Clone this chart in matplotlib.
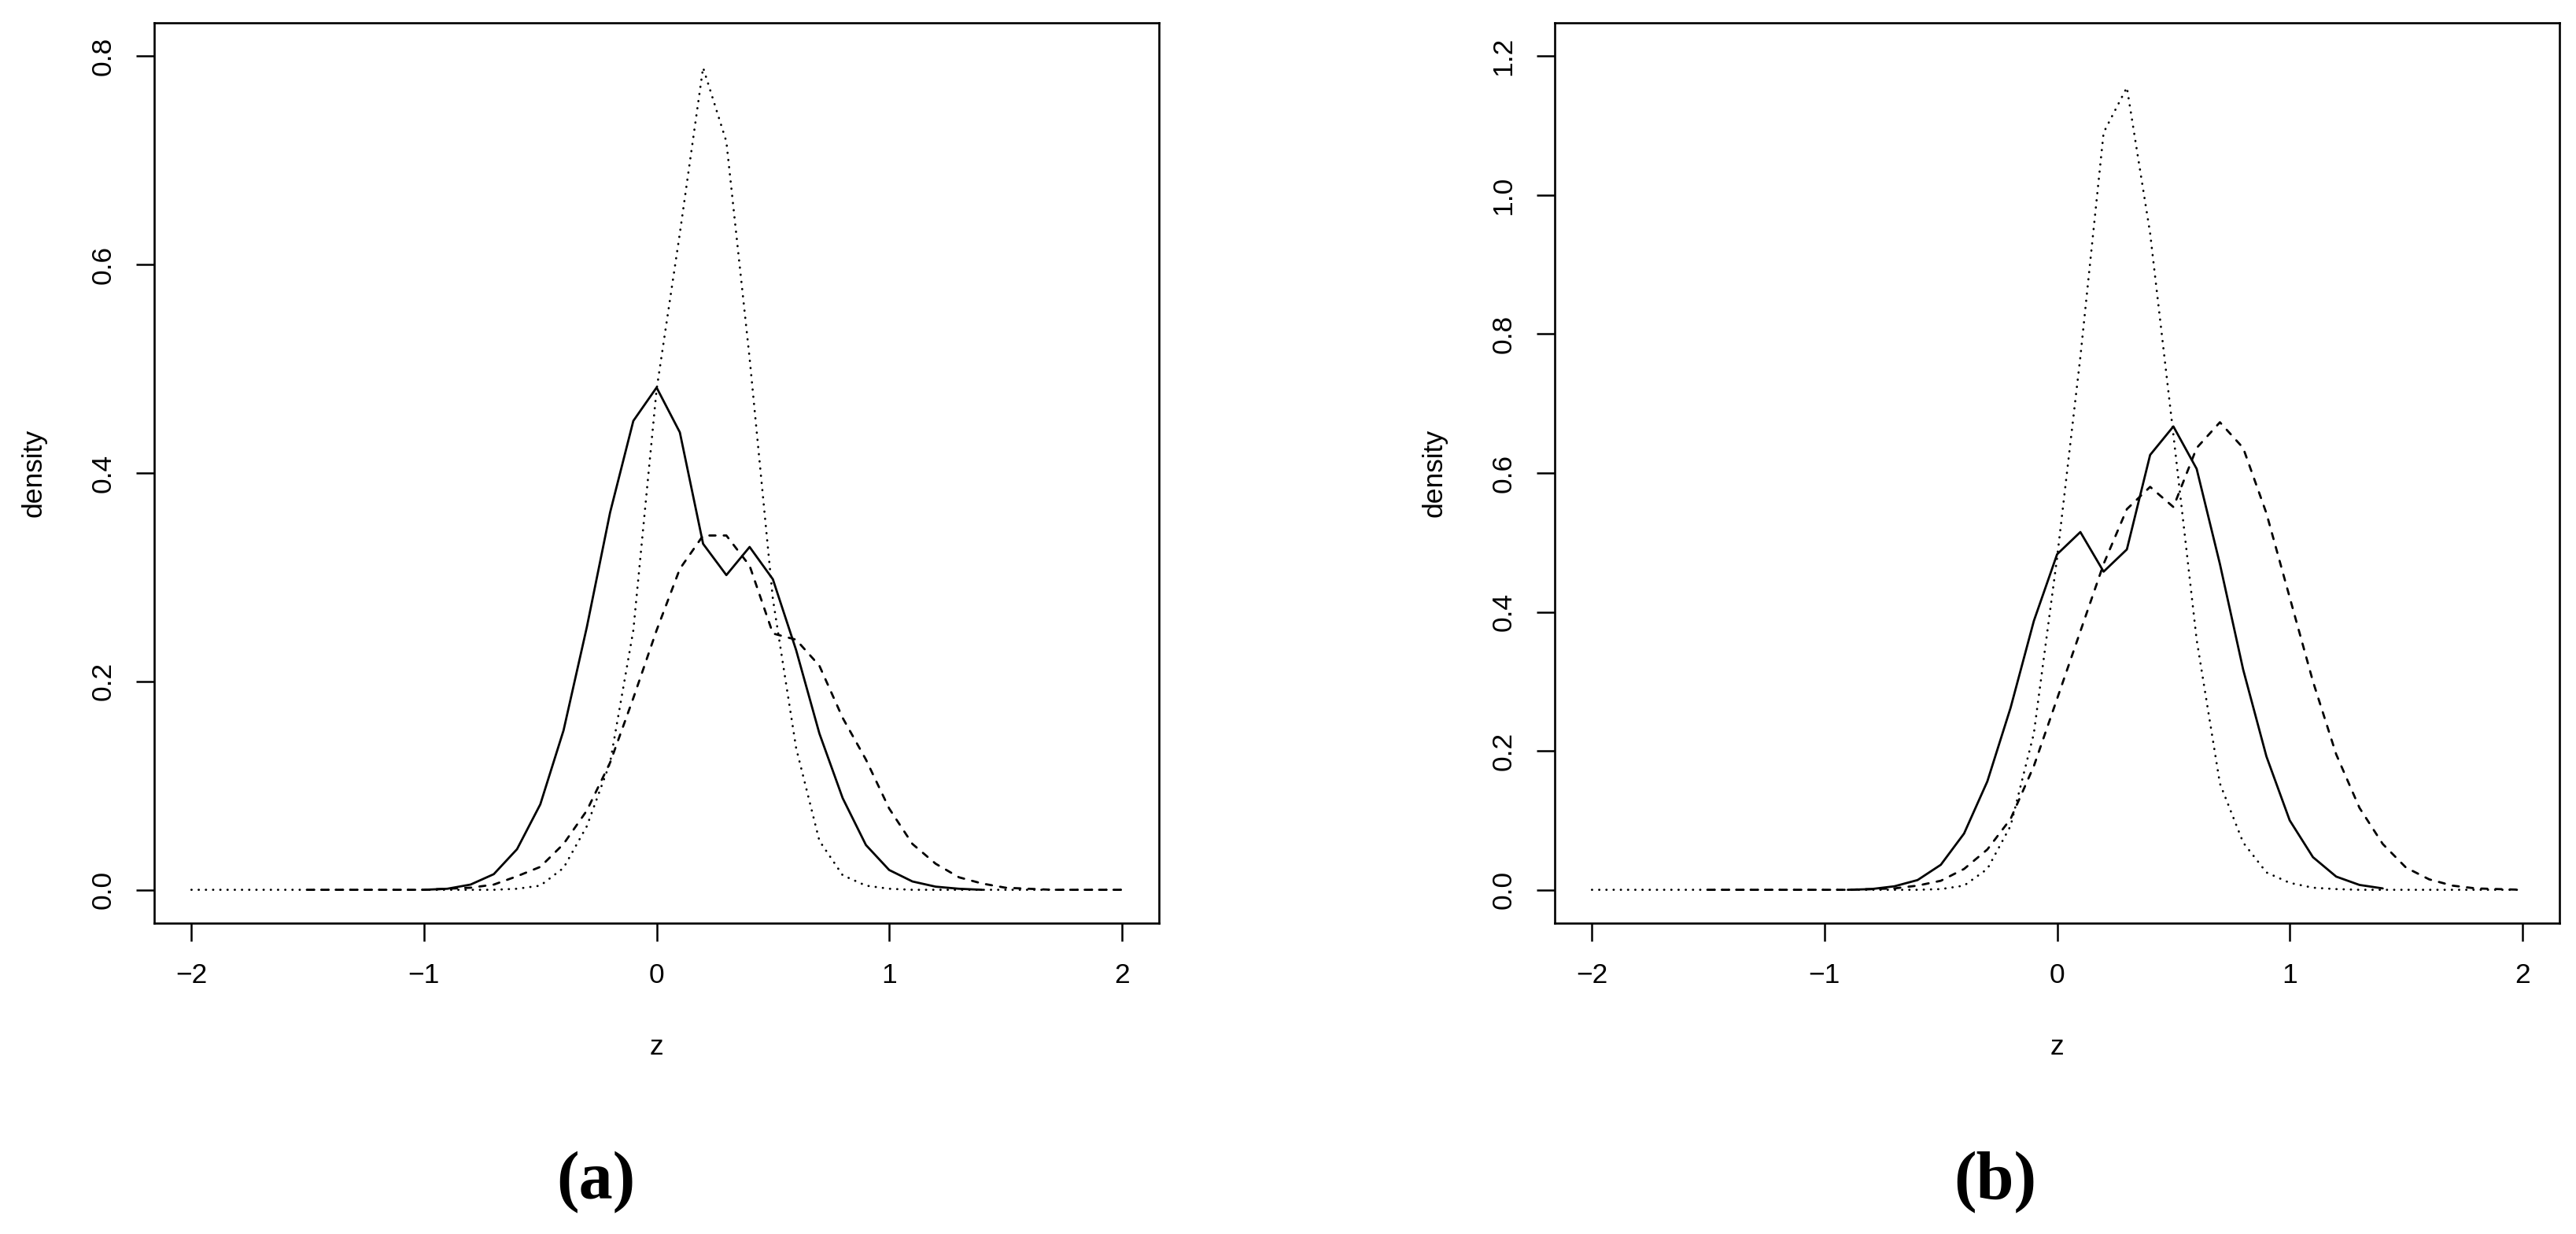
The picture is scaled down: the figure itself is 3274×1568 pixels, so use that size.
import numpy as np
import matplotlib
matplotlib.use("Agg")
import matplotlib.pyplot as plt

# ---------------- data ----------------
# panel (a)
za_dot = np.round(np.linspace(-2.0, 2.0, 41), 1)
a_dot = [0, 0, 0, 0, 0, 0, 0, 0, 0, 0, 0, 0, 0, 0,
         0.001, 0.004, 0.021, 0.061, 0.122, 0.249, 0.48, 0.63, 0.789, 0.718,
         0.51, 0.279, 0.136, 0.047, 0.014, 0.004, 0.001,
         0, 0, 0, 0, 0, 0, 0, 0, 0, 0]
za_dash = np.round(np.linspace(-1.5, 2.0, 36), 1)
a_dash = [0, 0, 0, 0, 0, 0,
          0.001, 0.002, 0.005, 0.013, 0.022, 0.044, 0.076, 0.122, 0.184, 0.249,
          0.308, 0.340, 0.340, 0.311, 0.246, 0.240, 0.215, 0.165, 0.125, 0.078,
          0.044, 0.025, 0.012, 0.006, 0.002, 0.001,
          0, 0, 0, 0]
za_sol = np.round(np.linspace(-1.0, 1.4, 25), 1)
a_sol = [0, 0.001, 0.005, 0.015, 0.039, 0.082, 0.153, 0.252, 0.362, 0.450,
         0.482, 0.439, 0.332, 0.302, 0.329, 0.298, 0.230, 0.150, 0.088, 0.043,
         0.019, 0.008, 0.003, 0.001, 0]

# panel (b)
zb_dot = np.round(np.linspace(-2.0, 2.0, 41), 1)
b_dot = [0, 0, 0, 0, 0, 0, 0, 0, 0, 0, 0, 0, 0, 0, 0,
         0.001, 0.006, 0.030, 0.092, 0.225, 0.478, 0.767, 1.09, 1.155, 0.945,
         0.655, 0.36, 0.153, 0.068, 0.025, 0.010, 0.003, 0.001,
         0, 0, 0, 0, 0, 0, 0, 0]
zb_dash = np.round(np.linspace(-1.5, 2.0, 36), 1)
b_dash = [0, 0, 0, 0, 0, 0, 0,
          0.001, 0.002, 0.006, 0.013, 0.030, 0.058, 0.102, 0.178, 0.275, 0.372,
          0.469, 0.548, 0.580, 0.551, 0.636, 0.673, 0.636, 0.542, 0.421, 0.300,
          0.195, 0.118, 0.066, 0.032, 0.015, 0.006, 0.002, 0.001, 0]
zb_sol = np.round(np.linspace(-0.9, 1.4, 24), 1)
b_sol = [0, 0.001, 0.005, 0.014, 0.036, 0.081, 0.156, 0.262, 0.387, 0.483,
         0.515, 0.458, 0.490, 0.626, 0.667, 0.606, 0.469, 0.317, 0.192, 0.100,
         0.047, 0.019, 0.007, 0.002]

x_ticks = [-2, -1, 0, 1, 2]
x_ticklabels = ["\u22122", "\u22121", "0", "1", "2"]
a_yticks = [0.0, 0.2, 0.4, 0.6, 0.8]
b_yticks = [0.0, 0.2, 0.4, 0.6, 0.8, 1.0, 1.2]
panel_labels = ["(a)", "(b)"]
x_label = "z"
y_label = "density"

# ---------------- figure ----------------
plt.rcParams["font.family"] = ["Liberation Sans", "DejaVu Sans"]
W, H = 3274, 1568
fig = plt.figure(figsize=(W / 100, H / 100), dpi=100)

ax_w = 1277 / W
ax_h = 1144 / H
ax_b = 1 - 1173 / H
lefts = [196 / W, 1976 / W]
label_x = [757 / W, 2536 / W]

FS = 25.5
LW = 2.0

panels = [
    (za_sol, a_sol, za_dash, a_dash, za_dot, a_dot, a_yticks, 0.8),
    (zb_sol, b_sol, zb_dash, b_dash, zb_dot, b_dot, b_yticks, 1.2),
]

for i, (zs, ys, zd, yd, zo, yo, yt, ymax) in enumerate(panels):
    ax = fig.add_axes([lefts[i], ax_b, ax_w, ax_h])
    ax.plot(zs, ys, color="black", lw=LW, solid_joinstyle="round",
            solid_capstyle="round")
    ax.plot(zd, yd, color="black", lw=LW, linestyle=(0, (2.8, 3.75)),
            dash_capstyle="round", dash_joinstyle="round")
    ax.plot(zo, yo, color="black", lw=LW, linestyle=(0, (0.1, 3.2)),
            dash_capstyle="round", dash_joinstyle="round")

    ax.set_xlim(-2.16, 2.16)
    ax.set_ylim(-0.04 * ymax, 1.04 * ymax)
    ax.set_xticks(x_ticks)
    ax.set_xticklabels(x_ticklabels)
    ax.set_yticks(yt)
    ax.set_yticklabels([f"{v:.1f}" for v in yt])

    for s in ax.spines.values():
        s.set_linewidth(1.9)
        s.set_color("black")
    ax.tick_params(axis="both", direction="out", length=16.6, width=1.8,
                   labelsize=FS, colors="black")
    ax.tick_params(axis="x", pad=31.5)
    ax.tick_params(axis="y", pad=30.2)
    for lab in ax.get_xticklabels():
        lab.set_va("center")
    for lab in ax.get_yticklabels():
        lab.set_rotation(90)
        lab.set_ha("center")
        lab.set_va("center")

    ax.set_xlabel(x_label, fontsize=FS)
    ax.xaxis.set_label_coords(0.5, (1173 - 1330) / 1144)
    ax.xaxis.label.set_va("center")
    ax.set_ylabel(y_label, fontsize=FS)
    ax.yaxis.set_label_coords(-0.12, 0.5)
    ax.yaxis.label.set_va("center")

    fig.text(label_x[i], 1 - 1502 / H, panel_labels[i], ha="center", va="center",
             fontsize=62, fontweight="bold",
             family=["Liberation Serif", "DejaVu Serif"])

fig.savefig("out.png", dpi=100, facecolor="white")
